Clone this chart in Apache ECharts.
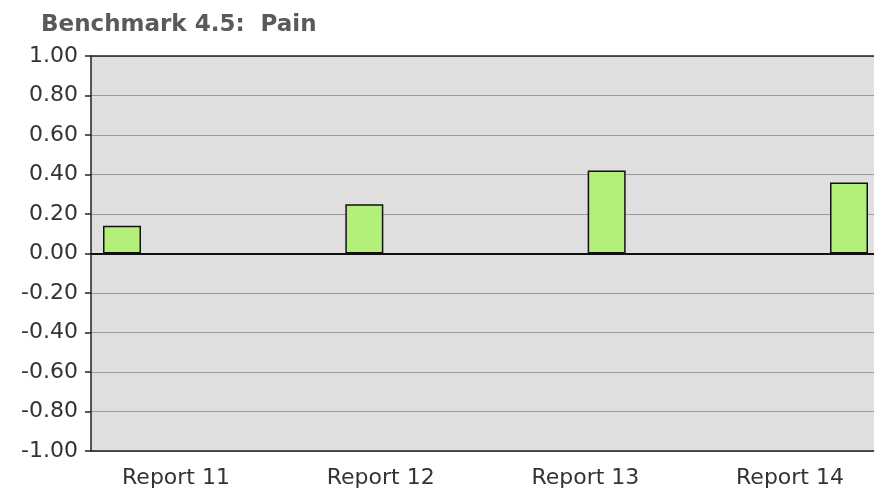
<!DOCTYPE html>
<html>
<head>
<meta charset="utf-8">
<script src="https://cdn.jsdelivr.net/npm/echarts@6/dist/echarts.min.js"></script>
<style>html,body{margin:0;padding:0;background:#fff}#c{width:874px;height:495px}</style>
</head>
<body>
<div id="c"></div>
<script>
var titleText = 'Benchmark 4.5:  Pain';
var categories = ['Report 11', 'Report 12', 'Report 13', 'Report 14'];
var values = [0.14, 0.25, 0.42, 0.36];
var yMin = -1, yMax = 1, yStep = 0.2;

var chart = echarts.init(document.getElementById('c'), null, {renderer: 'canvas'});
var axisFont = {fontFamily: 'DejaVu Sans', fontSize: 22, color: '#333'};
var frameLine = {color: '#222', width: 1.5};
var option = {
  animation: false,
  backgroundColor: '#fff',
  title: {
    text: titleText, left: 36, top: 9,
    textStyle: {fontFamily: 'DejaVu Sans', fontWeight: 'bold', fontSize: 23, color: '#5a5a5a'}
  },
  grid: [
    {left: 91, right: -10, top: 56, bottom: 44, show: true, backgroundColor: '#e0dedf', borderWidth: 0, outerBoundsMode: 'none'},
    {left: 122, width: 727, top: 56, bottom: 44, outerBoundsMode: 'none'},
    {left: 176, width: 614, top: 56, bottom: 44, outerBoundsMode: 'none'}
  ],
  xAxis: [
    {gridIndex: 0, type: 'category', data: categories, position: 'bottom', axisLine: {onZero: false, lineStyle: frameLine}, axisTick: {show: false}, axisLabel: {show: false}, splitLine: {show: false}},
    {gridIndex: 0, type: 'category', data: categories, position: 'top', axisLine: {onZero: false, lineStyle: frameLine}, axisTick: {show: false}, axisLabel: {show: false}, splitLine: {show: false}},
    {gridIndex: 1, type: 'category', data: categories, boundaryGap: false, show: false},
    {gridIndex: 2, type: 'category', data: categories, boundaryGap: false, axisLine: {show: false}, axisTick: {show: false},
     axisLabel: Object.assign({margin: 16, showMinLabel: true, showMaxLabel: true, interval: 0}, axisFont)}
  ],
  yAxis: [
    {gridIndex: 0, type: 'value', min: yMin, max: yMax, interval: yStep,
     axisLine: {show: true, lineStyle: frameLine},
     axisTick: {show: true, length: 6, lineStyle: frameLine},
     axisLabel: Object.assign({margin: 13, formatter: function (v) { return v.toFixed(2); }}, axisFont),
     splitLine: {show: true, lineStyle: {color: '#9a9a9a', width: 1.2}}},
    {gridIndex: 1, type: 'value', min: yMin, max: yMax, show: false},
    {gridIndex: 2, type: 'value', min: yMin, max: yMax, show: false}
  ],
  series: [
    {
      type: 'line', xAxisIndex: 0, yAxisIndex: 0, data: [], silent: true, symbol: 'none',
      markLine: {silent: true, symbol: 'none', label: {show: false}, lineStyle: {color: '#111', width: 2, type: 'solid'}, data: [{yAxis: 0}]}
    },
    {
      type: 'bar', xAxisIndex: 2, yAxisIndex: 1, data: values, barWidth: 38, clip: false, z: 3,
      itemStyle: {color: '#b2f07a', borderColor: '#111', borderWidth: 1.5}
    }
  ]
};
chart.setOption(option);
</script>
</body>
</html>
